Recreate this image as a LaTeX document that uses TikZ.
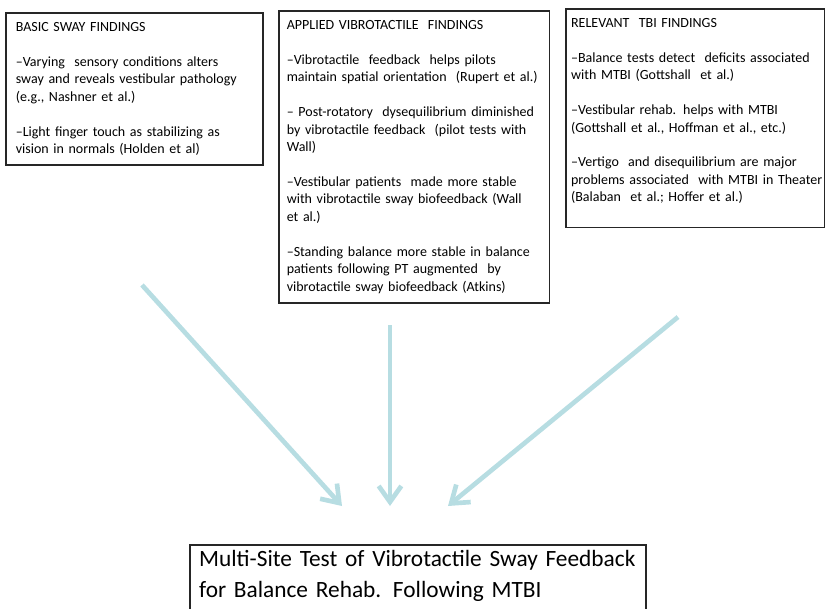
\documentclass[tikz,border=0pt]{standalone}
\usepackage{fontspec}
\setmainfont{Carlito}
\usepackage{tikz}
\usetikzlibrary{arrows.meta,positioning}
\definecolor{arrowblue}{RGB}{183,221,226}

\begin{document}
\begin{tikzpicture}[x=0.75pt, y=-0.75pt,
  findings/.style={draw=black!85, line width=1.2pt, anchor=north west, align=left,
    inner ysep=7pt, font=\fontsize{10.5}{13.1}\selectfont},
  feed/.style={draw=arrowblue, line width=3.5pt,
    -{Straight Barb[length=12pt,width=17pt]}}]
  \useasboundingbox (0,0) rectangle (826,608);
  \clip (0,0) rectangle (826,608);
  % ── Findings boxes ──
  \node[findings, inner xsep=7.5pt, text width=178pt] (basic) at (5,12)
    {BASIC SWAY FINDINGS\\[\baselineskip]
     --Varying\ \ sensory conditions alters\\
     sway and reveals vestibular pathology\\
     (e.g., Nashner et al.)\\[\baselineskip]
     --Light finger touch as stabilizing as\\
     vision in normals (Holden et al)};
  \node[findings, inner xsep=6pt, text width=191pt] (applied) at (278,10)
    {APPLIED VIBROTACTILE\ \ FINDINGS\\[\baselineskip]
     --Vibrotactile\ \ feedback\ \ helps pilots\\
     maintain spatial orientation\ \ (Rupert et al.)\\[\baselineskip]
     -- Post-rotatory\ \ dysequilibrium diminished\\
     by vibrotactile feedback\ \ (pilot tests with\\
     Wall)\\[\baselineskip]
     --Vestibular patients\ \ made more stable\\
     with vibrotactile sway biofeedback (Wall\\
     et al.)\\[\baselineskip]
     --Standing balance more stable in balance\\
     patients following PT augmented\ \ by\\
     vibrotactile sway biofeedback (Atkins)};
  \node[findings, inner xsep=4pt, text width=186pt] (tbi) at (565,8)
    {RELEVANT\ \ TBI FINDINGS\\[\baselineskip]
     --Balance tests detect\ \ deficits associated\\
     with MTBI (Gottshall\ \ et al.)\\[\baselineskip]
     --Vestibular rehab. helps with MTBI\\
     (Gottshall et al., Hoffman et al., etc.)\\[\baselineskip]
     --Vertigo\ \ and disequilibrium are major\\
     \mbox{problems associated\ \ with MTBI in Theater}\\
     (Balaban\ \ et al.; Hoffer et al.)\\[-1pt]\mbox{}};
  % ── Study box (runs off the bottom) ──
  \node[draw=black!85, line width=1.2pt, anchor=north west, align=left,
    inner xsep=7pt, inner ysep=4pt, text width=328pt,
    font=\fontsize{17.5}{23.25}\selectfont] (test) at (189,544)
    {Multi-Site Test of Vibrotactile Sway Feedback\\
     for Balance Rehab. Following MTBI\\[-8pt]\mbox{}};
  % ── Arrows ──
  \coordinate (basicfoot) at (142,285);
  \coordinate (appliedfoot) at (390,325);
  \coordinate (tbifoot) at (678,317);
  \coordinate (testleft) at (342,506);
  \coordinate (testmid) at (390,506);
  \coordinate (testright) at (448,506);
  \draw[feed] (basicfoot) -- (testleft);
  \draw[feed] (appliedfoot) -- (testmid);
  \draw[feed] (tbifoot) -- (testright);
\end{tikzpicture}
\end{document}
